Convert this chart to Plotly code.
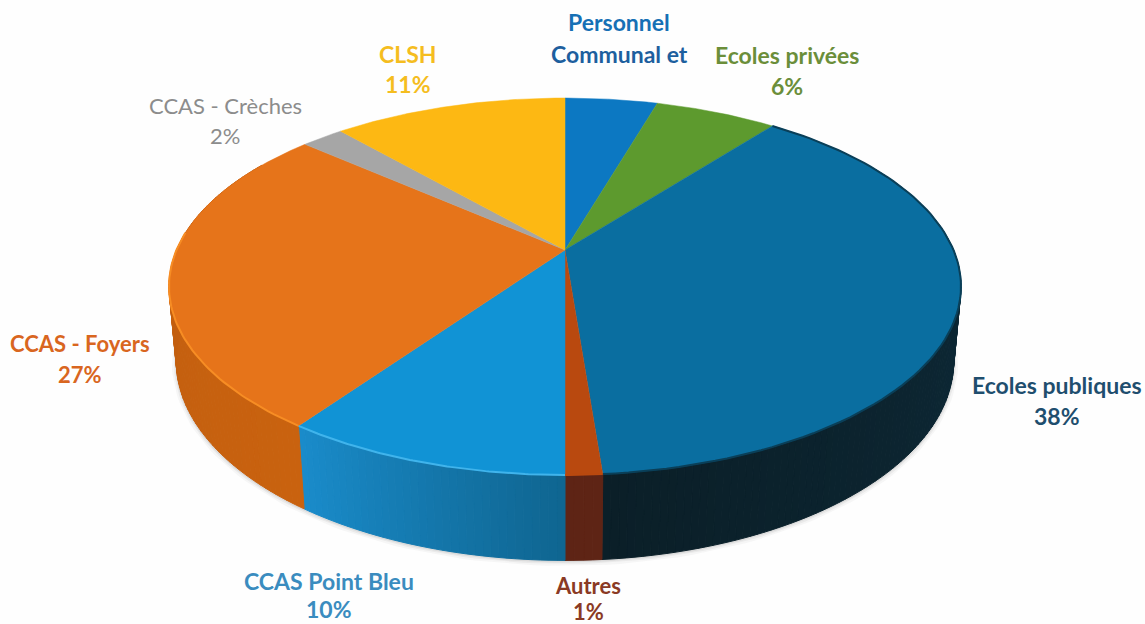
import numpy as np
import plotly.graph_objects as go

# clockwise from 12 o'clock, shares estimated from slice edges in the picture
categories = ["Personnel Communal et", "Ecoles privées", "Ecoles publiques", "Autres",
              "CCAS Point Bleu", "CCAS - Foyers", "CCAS - Crèches", "CLSH"]
shares = [4.55, 6.0, 38.2, 1.25, 9.8, 26.6, 2.1, 11.5]
top_colors = ["#0c78c2", "#5d9a2e", "#0a6ea0", "#b9490f", "#1193d5", "#e6741a", "#a6a6a6", "#fdb813"]
rim_colors = ["#0c78c2", "#5d9a2e", "#0a3f58", "#b9490f", "#40b4ec", "#f78d24", "#a6a6a6", "#fdb813"]
side_from = ["#0c78c2", "#5d9a2e", "#0d2f40", "#5e2415", "#0f6590", "#c9620f", "#a6a6a6", "#fdb813"]
side_to = ["#0c78c2", "#5d9a2e", "#0b1f28", "#5e2415", "#1a8ccb", "#bd5c10", "#a6a6a6", "#fdb813"]

# (text, colour, font size, centre x, centre y) in picture pixels
labels = [
    ("<b>Personnel</b>", "#1670b5", 23, 619, 22),
    ("<b>Communal et</b>", "#1d5f9e", 23, 619, 54),
    ("<b>Ecoles privées</b>", "#6b8e3a", 23, 787, 55),
    ("<b>6%</b>", "#6b8e3a", 23, 787, 86),
    ("<b>Ecoles publiques</b>", "#1f4e6e", 23, 1057, 385),
    ("<b>38%</b>", "#1f4e6e", 23, 1057, 416),
    ("<b>Autres</b>", "#8a3a24", 22, 588, 585),
    ("<b>1%</b>", "#8a3a24", 22, 588, 611),
    ("<b>CCAS Point Bleu</b>", "#3a8cbf", 23, 329, 581),
    ("<b>10%</b>", "#3a8cbf", 23, 329, 609),
    ("<b>CCAS - Foyers</b>", "#d9661f", 22, 80, 343),
    ("<b>27%</b>", "#d9661f", 22, 80, 374),
    ("CCAS - Crèches", "#8c8c8c", 22, 225, 105),
    ("2%", "#8c8c8c", 22, 225, 135),
    ("<b>CLSH</b>", "#f5bd1f", 23, 408, 54),
    ("<b>11%</b>", "#f5bd1f", 23, 408, 84),
]

CX, R = 565, 388.5
PERSP, DEPTH_W, TILT, CY, DROP = 0.1936, 0.018, -133, 250, 79


def project(theta, z=0.0):
    # theta in radians clockwise from the back of the disc, z=1 is the bottom face
    u, v = np.sin(theta), np.cos(theta)
    w = 1 + PERSP * v + DEPTH_W * z
    return CX + R * u / w, (TILT * v + CY + DROP * z) / w


def mix(c1, c2, t):
    a = [int(c1[i:i + 2], 16) for i in (1, 3, 5)]
    b = [int(c2[i:i + 2], 16) for i in (1, 3, 5)]
    return "rgb(%d,%d,%d)" % tuple(round(p + (q - p) * t) for p, q in zip(a, b))


fractions = np.array(shares) / sum(shares)
edges = np.concatenate([[0], np.cumsum(fractions)]) * 2 * np.pi

fig = go.Figure()

# soft shadow under the disc
ring = np.linspace(np.pi * 0.35, np.pi * 1.65, 160)
for width, alpha in [(9, 0.05), (5, 0.07), (2, 0.1)]:
    sx, sy = project(ring, 1.0)
    fig.add_trace(go.Scatter(x=sx, y=sy + 1, mode="lines", hoverinfo="skip",
                             line=dict(color=f"rgba(90,90,90,{alpha})", width=width)))

# side wall, cut in thin strips so the shading can change along the edge
for i in range(len(shares)):
    n = max(2, int((edges[i + 1] - edges[i]) / np.radians(1)))
    cuts = np.linspace(edges[i], edges[i + 1], n + 1)
    for k in range(n):
        if np.cos(cuts[k]) > 0.5:
            continue  # hidden behind the top face
        th = np.linspace(cuts[k], cuts[k + 1], 3)
        xt, yt = project(th)
        xb, yb = project(th[::-1], 1.0)
        col = mix(side_from[i], side_to[i], (k + 0.5) / n)
        fig.add_trace(go.Scatter(x=np.r_[xt, xb, xt[0]], y=np.r_[yt, yb, yt[0]],
                                 mode="lines", fill="toself", fillcolor=col,
                                 line=dict(color=col, width=1), hoverinfo="skip"))

# top face
for i, name in enumerate(categories):
    th = np.linspace(edges[i], edges[i + 1], 90)
    x, y = project(th)
    fig.add_trace(go.Scatter(
        x=np.r_[CX, x, CX], y=np.r_[CY, y, CY], mode="lines", fill="toself",
        fillcolor=top_colors[i], line=dict(color=top_colors[i], width=0.5), name=name,
        hovertemplate=f"{name}: {shares[i]:.1f}%<extra></extra>"))

# lighter or darker lip along the edge of the top face
for i in range(len(shares)):
    th = np.linspace(edges[i], edges[i + 1], 90)
    if categories[i] != "Ecoles publiques":
        th = th[np.cos(th) < 0.1]
    if len(th) < 2:
        continue
    x, y = project(th)
    fig.add_trace(go.Scatter(x=x, y=y, mode="lines", hoverinfo="skip",
                             line=dict(color=rim_colors[i], width=2)))

fig.update_layout(
    width=1145, height=624, autosize=False, showlegend=False,
    paper_bgcolor="#fefefe", plot_bgcolor="#fefefe",
    margin=dict(l=0, r=0, t=0, b=0),
    xaxis=dict(range=[0, 1145], visible=False, fixedrange=True),
    yaxis=dict(range=[624, 0], visible=False, fixedrange=True),
    annotations=[dict(x=lx, y=ly, text=t, showarrow=False,
                      xanchor="center", yanchor="middle",
                      font=dict(family="Lato", size=s, color=c))
                 for t, c, s, lx, ly in labels],
)

# drop the page's default 8px body margin so axis units are picture pixels
fig.write_html("out.html", config=dict(displayModeBar=False),
               post_script="document.body.style.margin = '0';")
